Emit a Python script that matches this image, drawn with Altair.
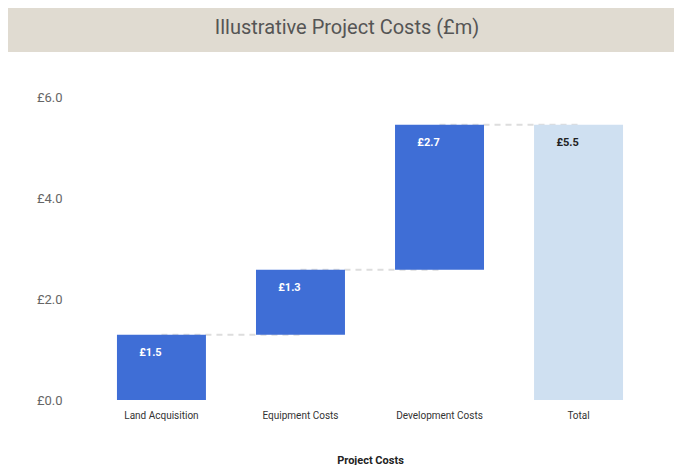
import altair as alt
import pandas as pd

# Data
categories = ["Land Acquisition", "Equipment Costs", "Development Costs", "Total"]
bar_start = [0.0, 1.29, 2.58, 0.0]
bar_end = [1.29, 2.58, 5.45, 5.45]
bar_labels = ["£1.5", "£1.3", "£2.7", "£5.5"]
bar_kind = ["step", "step", "step", "total"]
y_ticks = [0, 2, 4, 6]
title_text = "Illustrative Project Costs (£m)"

df = pd.DataFrame({
    "cat": categories,
    "start": bar_start,
    "end": bar_end,
    "label": bar_labels,
    "kind": bar_kind,
})
conn = pd.DataFrame({
    "cat": categories[:-1],
    "next": categories[1:],
    "level": bar_end[:-1],
})

FONT = "Roboto"
xscale = alt.Scale(domain=categories, paddingInner=0.36, paddingOuter=0.122)
yscale = alt.Scale(domain=[0, 6], nice=False)

x_axis = alt.Axis(
    labelAngle=0, labelFontSize=10, labelColor="#333333", labelFont=FONT,
    labelPadding=10, domain=False, ticks=False, grid=False,
    title="Project Costs", titleFontSize=11, titleFontWeight="bold",
    titleColor="#222222", titleFont=FONT, titlePadding=34,
)
y_axis = alt.Axis(
    values=y_ticks, labelExpr="'£' + format(datum.value, '.1f')",
    labelFontSize=13, labelColor="#666666", labelFont=FONT, labelPadding=38,
    domain=False, ticks=False, grid=False, title=None,
)

one = pd.DataFrame({"t": [title_text]})

banner = alt.Chart(one).mark_rect(color="#e0dbd1").encode(
    x=alt.value(-92), x2=alt.value(574), y=alt.value(-89), y2=alt.value(-45)
)
banner_text = alt.Chart(one).mark_text(
    fontSize=20, font=FONT, color="#555555", align="center", baseline="middle"
).encode(text="t:N", x=alt.value(247), y=alt.value(-69))

connectors = alt.Chart(conn).mark_rule(
    color="#dddddd", strokeWidth=2, strokeDash=[6, 5]
).encode(
    x=alt.X("cat:N", scale=xscale, axis=x_axis),
    x2="next:N",
    y=alt.Y("level:Q", scale=yscale, axis=y_axis),
)

bars = alt.Chart(df).mark_bar().encode(
    x=alt.X("cat:N", scale=xscale, axis=x_axis),
    y=alt.Y("start:Q", scale=yscale, axis=y_axis),
    y2="end:Q",
    color=alt.Color("kind:N", scale=alt.Scale(domain=["step", "total"],
                                              range=["#3f6ed6", "#cfe0f1"]), legend=None),
)

labels = alt.Chart(df).mark_text(
    fontSize=11, fontWeight="bold", font=FONT, dx=-11, dy=18, baseline="middle"
).encode(
    x=alt.X("cat:N", scale=xscale, axis=x_axis),
    y=alt.Y("end:Q", scale=yscale, axis=y_axis),
    text="label:N",
    color=alt.Color("kind:N", scale=alt.Scale(domain=["step", "total"],
                                              range=["#ffffff", "#222222"]), legend=None),
)

chart = alt.layer(banner, banner_text, connectors, bars, labels).resolve_scale(
    color="independent"
).properties(
    width=540, height=303, padding=0
).configure_view(stroke=None)

chart.save("out.html", embed_options={"renderer": "svg", "actions": False})
